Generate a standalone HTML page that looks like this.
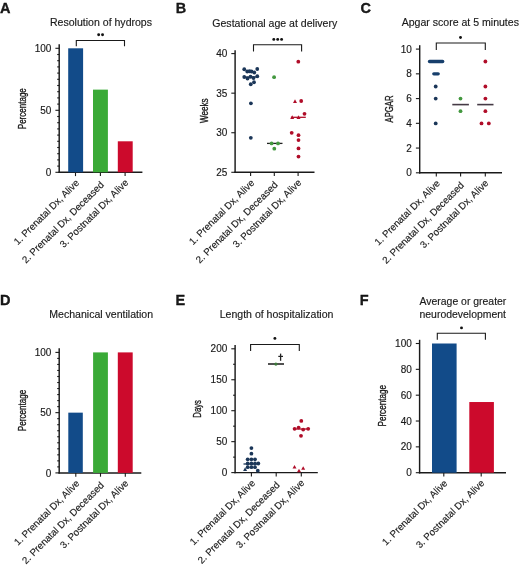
<!DOCTYPE html><html><head><meta charset="utf-8"><style>html,body{margin:0;padding:0;background:#fff;}svg{display:block;will-change:transform}</style></head><body>
<svg width="520" height="566" viewBox="0 0 520 566" font-family='"Liberation Sans", sans-serif' fill="#1a1a1a">
<rect width="520" height="566" fill="#fff"/>
<text x="0.1" y="12.6" font-size="14.5" text-anchor="start" font-weight="bold" stroke="#000" stroke-width="0.3">A</text>
<text x="50" y="26.3" font-size="10.55" text-anchor="start" font-weight="normal" stroke="#1a1a1a" stroke-width="0.15">Resolution of hydrops</text>
<line x1="59.2" y1="44.3" x2="59.2" y2="173.0" stroke="#1a1a1a" stroke-width="1.45"/>
<line x1="55.400000000000006" y1="172.3" x2="59.2" y2="172.3" stroke="#1a1a1a" stroke-width="1.1"/>
<text x="51.400000000000006" y="175.9" font-size="10" text-anchor="end" font-weight="normal" stroke="#1a1a1a" stroke-width="0.15">0</text>
<line x1="55.400000000000006" y1="110.30000000000001" x2="59.2" y2="110.30000000000001" stroke="#1a1a1a" stroke-width="1.1"/>
<text x="51.400000000000006" y="113.9" font-size="10" text-anchor="end" font-weight="normal" stroke="#1a1a1a" stroke-width="0.15">50</text>
<line x1="55.400000000000006" y1="48.3" x2="59.2" y2="48.3" stroke="#1a1a1a" stroke-width="1.1"/>
<text x="51.400000000000006" y="51.9" font-size="10" text-anchor="end" font-weight="normal" stroke="#1a1a1a" stroke-width="0.15">100</text>
<line x1="57.2" y1="166.10000000000002" x2="59.2" y2="166.10000000000002" stroke="#1a1a1a" stroke-width="1.1"/>
<line x1="57.2" y1="159.9" x2="59.2" y2="159.9" stroke="#1a1a1a" stroke-width="1.1"/>
<line x1="57.2" y1="153.70000000000002" x2="59.2" y2="153.70000000000002" stroke="#1a1a1a" stroke-width="1.1"/>
<line x1="57.2" y1="147.5" x2="59.2" y2="147.5" stroke="#1a1a1a" stroke-width="1.1"/>
<line x1="57.2" y1="141.3" x2="59.2" y2="141.3" stroke="#1a1a1a" stroke-width="1.1"/>
<line x1="57.2" y1="135.10000000000002" x2="59.2" y2="135.10000000000002" stroke="#1a1a1a" stroke-width="1.1"/>
<line x1="57.2" y1="128.9" x2="59.2" y2="128.9" stroke="#1a1a1a" stroke-width="1.1"/>
<line x1="57.2" y1="122.7" x2="59.2" y2="122.7" stroke="#1a1a1a" stroke-width="1.1"/>
<line x1="57.2" y1="116.5" x2="59.2" y2="116.5" stroke="#1a1a1a" stroke-width="1.1"/>
<line x1="57.2" y1="104.1" x2="59.2" y2="104.1" stroke="#1a1a1a" stroke-width="1.1"/>
<line x1="57.2" y1="97.9" x2="59.2" y2="97.9" stroke="#1a1a1a" stroke-width="1.1"/>
<line x1="57.2" y1="91.7" x2="59.2" y2="91.7" stroke="#1a1a1a" stroke-width="1.1"/>
<line x1="57.2" y1="85.5" x2="59.2" y2="85.5" stroke="#1a1a1a" stroke-width="1.1"/>
<line x1="57.2" y1="79.3" x2="59.2" y2="79.3" stroke="#1a1a1a" stroke-width="1.1"/>
<line x1="57.2" y1="73.1" x2="59.2" y2="73.1" stroke="#1a1a1a" stroke-width="1.1"/>
<line x1="57.2" y1="66.89999999999999" x2="59.2" y2="66.89999999999999" stroke="#1a1a1a" stroke-width="1.1"/>
<line x1="57.2" y1="60.69999999999999" x2="59.2" y2="60.69999999999999" stroke="#1a1a1a" stroke-width="1.1"/>
<line x1="57.2" y1="54.499999999999986" x2="59.2" y2="54.499999999999986" stroke="#1a1a1a" stroke-width="1.1"/>
<line x1="58.5" y1="172.3" x2="142.4" y2="172.3" stroke="#1a1a1a" stroke-width="1.45"/>
<line x1="75.5" y1="172.3" x2="75.5" y2="176.10000000000002" stroke="#1a1a1a" stroke-width="1.1"/>
<line x1="100.4" y1="172.3" x2="100.4" y2="176.10000000000002" stroke="#1a1a1a" stroke-width="1.1"/>
<line x1="125.1" y1="172.3" x2="125.1" y2="176.10000000000002" stroke="#1a1a1a" stroke-width="1.1"/>
<rect x="68.2" y="48.3" width="14.9" height="124.00000000000001" fill="#124b89"/>
<rect x="93" y="89.63333333333334" width="14.9" height="82.66666666666667" fill="#3aaa37"/>
<rect x="117.8" y="141.3" width="14.9" height="31.000000000000004" fill="#cc0a2c"/>
<path d="M76.3,46.3 V40.5 H124.5 V46.3" fill="none" stroke="#1a1a1a" stroke-width="1.1"/>
<circle cx="98.65" cy="34.80" r="1.45" fill="#111"/>
<circle cx="102.55" cy="34.80" r="1.45" fill="#111"/>
<text x="0" y="0" font-size="11" stroke="#1a1a1a" stroke-width="0.35" text-anchor="middle" textLength="41" lengthAdjust="spacingAndGlyphs" transform="translate(25.6,108.7) rotate(-90)">Percentage</text>
<text x="0" y="0" font-size="9.75" stroke="#1a1a1a" stroke-width="0.15" text-anchor="end" transform="translate(79.90,183.40) rotate(-45)">1. Prenatal Dx, Alive</text>
<text x="0" y="0" font-size="9.75" stroke="#1a1a1a" stroke-width="0.15" text-anchor="end" transform="translate(104.50,185.30) rotate(-45)">2. Prenatal Dx, Deceased</text>
<text x="0" y="0" font-size="9.75" stroke="#1a1a1a" stroke-width="0.15" text-anchor="end" transform="translate(129.00,183.20) rotate(-45)">3. Postnatal Dx, Alive</text>
<text x="175.7" y="12.6" font-size="14.5" text-anchor="start" font-weight="bold" stroke="#000" stroke-width="0.3">B</text>
<text x="212.3" y="26.5" font-size="10.55" text-anchor="start" font-weight="normal" stroke="#1a1a1a" stroke-width="0.15">Gestational age at delivery</text>
<line x1="235.1" y1="50.2" x2="235.1" y2="173.0" stroke="#1a1a1a" stroke-width="1.45"/>
<line x1="231.29999999999998" y1="172.3" x2="235.1" y2="172.3" stroke="#1a1a1a" stroke-width="1.1"/>
<text x="227.29999999999998" y="175.9" font-size="10" text-anchor="end" font-weight="normal" stroke="#1a1a1a" stroke-width="0.15">25</text>
<line x1="231.29999999999998" y1="132.73333333333335" x2="235.1" y2="132.73333333333335" stroke="#1a1a1a" stroke-width="1.1"/>
<text x="227.29999999999998" y="136.33333333333334" font-size="10" text-anchor="end" font-weight="normal" stroke="#1a1a1a" stroke-width="0.15">30</text>
<line x1="231.29999999999998" y1="93.16666666666666" x2="235.1" y2="93.16666666666666" stroke="#1a1a1a" stroke-width="1.1"/>
<text x="227.29999999999998" y="96.76666666666665" font-size="10" text-anchor="end" font-weight="normal" stroke="#1a1a1a" stroke-width="0.15">35</text>
<line x1="231.29999999999998" y1="53.599999999999994" x2="235.1" y2="53.599999999999994" stroke="#1a1a1a" stroke-width="1.1"/>
<text x="227.29999999999998" y="57.199999999999996" font-size="10" text-anchor="end" font-weight="normal" stroke="#1a1a1a" stroke-width="0.15">40</text>
<line x1="234.4" y1="172.3" x2="314.5" y2="172.3" stroke="#1a1a1a" stroke-width="1.45"/>
<line x1="250.6" y1="172.3" x2="250.6" y2="176.10000000000002" stroke="#1a1a1a" stroke-width="1.1"/>
<line x1="274.3" y1="172.3" x2="274.3" y2="176.10000000000002" stroke="#1a1a1a" stroke-width="1.1"/>
<line x1="298.1" y1="172.3" x2="298.1" y2="176.10000000000002" stroke="#1a1a1a" stroke-width="1.1"/>
<path d="M253.5,51.6 V44.8 H301.6 V51.6" fill="none" stroke="#1a1a1a" stroke-width="1.1"/>
<circle cx="273.80" cy="39.40" r="1.45" fill="#111"/>
<circle cx="277.70" cy="39.40" r="1.45" fill="#111"/>
<circle cx="281.60" cy="39.40" r="1.45" fill="#111"/>
<text x="0" y="0" font-size="11" stroke="#1a1a1a" stroke-width="0.35" text-anchor="middle" textLength="24.5" lengthAdjust="spacingAndGlyphs" transform="translate(207.6,110.8) rotate(-90)">Weeks</text>
<text x="0" y="0" font-size="9.75" stroke="#1a1a1a" stroke-width="0.15" text-anchor="end" transform="translate(255.00,183.40) rotate(-45)">1. Prenatal Dx, Alive</text>
<text x="0" y="0" font-size="9.75" stroke="#1a1a1a" stroke-width="0.15" text-anchor="end" transform="translate(278.40,185.30) rotate(-45)">2. Prenatal Dx, Deceased</text>
<text x="0" y="0" font-size="9.75" stroke="#1a1a1a" stroke-width="0.15" text-anchor="end" transform="translate(302.00,183.20) rotate(-45)">3. Postnatal Dx, Alive</text>
<line x1="243.2" y1="77" x2="258.5" y2="77" stroke="#1b3658" stroke-width="1.3"/>
<circle cx="244.25" cy="69.25" r="1.9" fill="#1b3658"/>
<circle cx="257.25" cy="69" r="1.9" fill="#1b3658"/>
<circle cx="247.25" cy="71.5" r="1.9" fill="#1b3658"/>
<circle cx="249.5" cy="71.25" r="1.9" fill="#1b3658"/>
<circle cx="251.5" cy="71.5" r="1.9" fill="#1b3658"/>
<circle cx="254.25" cy="72.5" r="1.9" fill="#1b3658"/>
<circle cx="244.25" cy="77" r="1.9" fill="#1b3658"/>
<circle cx="247.5" cy="78.5" r="1.9" fill="#1b3658"/>
<circle cx="250.5" cy="76.75" r="1.9" fill="#1b3658"/>
<circle cx="253.5" cy="78" r="1.9" fill="#1b3658"/>
<circle cx="257.25" cy="76.25" r="1.9" fill="#1b3658"/>
<circle cx="254" cy="82.25" r="1.9" fill="#1b3658"/>
<circle cx="250.75" cy="84.25" r="1.9" fill="#1b3658"/>
<circle cx="250.9" cy="103.3" r="1.9" fill="#1b3658"/>
<circle cx="250.8" cy="137.8" r="1.9" fill="#1b3658"/>
<line x1="267" y1="143.4" x2="282.5" y2="143.4" stroke="#222" stroke-width="1.3"/>
<circle cx="274.1" cy="77.2" r="1.9" fill="#43983f"/>
<circle cx="271.6" cy="143.4" r="1.9" fill="#43983f"/>
<circle cx="278" cy="143.4" r="1.9" fill="#43983f"/>
<circle cx="274.3" cy="148.7" r="1.9" fill="#43983f"/>
<line x1="290.9" y1="117.3" x2="305.8" y2="117.3" stroke="#b00d29" stroke-width="1.3"/>
<circle cx="298.3" cy="61.7" r="1.9" fill="#b00d29"/>
<circle cx="301.2" cy="101" r="1.9" fill="#b00d29"/>
<circle cx="304.5" cy="113.8" r="1.9" fill="#b00d29"/>
<circle cx="291.7" cy="132.8" r="1.9" fill="#b00d29"/>
<circle cx="298.5" cy="135.2" r="1.9" fill="#b00d29"/>
<circle cx="298.5" cy="140.1" r="1.9" fill="#b00d29"/>
<circle cx="298.5" cy="148.4" r="1.9" fill="#b00d29"/>
<circle cx="298.5" cy="156.6" r="1.9" fill="#b00d29"/>
<path d="M295,99.3 L297.0,102.89999999999999 L293.0,102.89999999999999 Z" fill="#b00d29"/>
<path d="M292.2,115.3 L294.2,118.89999999999999 L290.2,118.89999999999999 Z" fill="#b00d29"/>
<path d="M298.5,115.3 L300.5,118.89999999999999 L296.5,118.89999999999999 Z" fill="#b00d29"/>
<text x="360.6" y="12.6" font-size="14.5" text-anchor="start" font-weight="bold" stroke="#000" stroke-width="0.3">C</text>
<text x="401.7" y="26.3" font-size="10.55" text-anchor="start" font-weight="normal" stroke="#1a1a1a" stroke-width="0.15">Apgar score at 5 minutes</text>
<line x1="419.7" y1="45.2" x2="419.7" y2="173.5" stroke="#1a1a1a" stroke-width="1.45"/>
<line x1="415.9" y1="172.8" x2="419.7" y2="172.8" stroke="#1a1a1a" stroke-width="1.1"/>
<text x="411.9" y="176.4" font-size="10" text-anchor="end" font-weight="normal" stroke="#1a1a1a" stroke-width="0.15">0</text>
<line x1="415.9" y1="148.06" x2="419.7" y2="148.06" stroke="#1a1a1a" stroke-width="1.1"/>
<text x="411.9" y="151.66" font-size="10" text-anchor="end" font-weight="normal" stroke="#1a1a1a" stroke-width="0.15">2</text>
<line x1="415.9" y1="123.32000000000002" x2="419.7" y2="123.32000000000002" stroke="#1a1a1a" stroke-width="1.1"/>
<text x="411.9" y="126.92000000000002" font-size="10" text-anchor="end" font-weight="normal" stroke="#1a1a1a" stroke-width="0.15">4</text>
<line x1="415.9" y1="98.58000000000001" x2="419.7" y2="98.58000000000001" stroke="#1a1a1a" stroke-width="1.1"/>
<text x="411.9" y="102.18" font-size="10" text-anchor="end" font-weight="normal" stroke="#1a1a1a" stroke-width="0.15">6</text>
<line x1="415.9" y1="73.84000000000002" x2="419.7" y2="73.84000000000002" stroke="#1a1a1a" stroke-width="1.1"/>
<text x="411.9" y="77.44000000000001" font-size="10" text-anchor="end" font-weight="normal" stroke="#1a1a1a" stroke-width="0.15">8</text>
<line x1="415.9" y1="49.10000000000002" x2="419.7" y2="49.10000000000002" stroke="#1a1a1a" stroke-width="1.1"/>
<text x="411.9" y="52.700000000000024" font-size="10" text-anchor="end" font-weight="normal" stroke="#1a1a1a" stroke-width="0.15">10</text>
<line x1="419.0" y1="172.8" x2="502" y2="172.8" stroke="#1a1a1a" stroke-width="1.45"/>
<line x1="436.3" y1="172.8" x2="436.3" y2="176.60000000000002" stroke="#1a1a1a" stroke-width="1.1"/>
<line x1="460.6" y1="172.8" x2="460.6" y2="176.60000000000002" stroke="#1a1a1a" stroke-width="1.1"/>
<line x1="485.3" y1="172.8" x2="485.3" y2="176.60000000000002" stroke="#1a1a1a" stroke-width="1.1"/>
<path d="M436.3,49.9 V43 H485.3 V49.9" fill="none" stroke="#1a1a1a" stroke-width="1.1"/>
<circle cx="460.50" cy="37.50" r="1.45" fill="#111"/>
<text x="0" y="0" font-size="11" stroke="#1a1a1a" stroke-width="0.35" text-anchor="middle" textLength="27" lengthAdjust="spacingAndGlyphs" transform="translate(393,109) rotate(-90)">APGAR</text>
<text x="0" y="0" font-size="9.75" stroke="#1a1a1a" stroke-width="0.15" text-anchor="end" transform="translate(440.70,183.90) rotate(-45)">1. Prenatal Dx, Alive</text>
<text x="0" y="0" font-size="9.75" stroke="#1a1a1a" stroke-width="0.15" text-anchor="end" transform="translate(464.70,185.80) rotate(-45)">2. Prenatal Dx, Deceased</text>
<text x="0" y="0" font-size="9.75" stroke="#1a1a1a" stroke-width="0.15" text-anchor="end" transform="translate(489.20,183.70) rotate(-45)">3. Postnatal Dx, Alive</text>
<line x1="429.5" y1="61.5" x2="442.7" y2="61.5" stroke="#173f6c" stroke-width="3.3" stroke-linecap="round"/>
<line x1="433.8" y1="73.8" x2="438.2" y2="73.8" stroke="#173f6c" stroke-width="3.3" stroke-linecap="round"/>
<circle cx="435.7" cy="86.5" r="1.9" fill="#1b3658"/>
<circle cx="435.7" cy="98.6" r="1.9" fill="#1b3658"/>
<circle cx="435.7" cy="123.4" r="1.9" fill="#1b3658"/>
<line x1="452.3" y1="104.6" x2="468.9" y2="104.6" stroke="#453a45" stroke-width="1.6"/>
<line x1="477.2" y1="104.6" x2="493.5" y2="104.6" stroke="#453a45" stroke-width="1.6"/>
<circle cx="460.5" cy="98.6" r="1.9" fill="#43983f"/>
<circle cx="460.5" cy="111.2" r="1.9" fill="#43983f"/>
<circle cx="485.4" cy="61.5" r="1.9" fill="#b00d29"/>
<circle cx="485.4" cy="86.5" r="1.9" fill="#b00d29"/>
<circle cx="485.4" cy="98.6" r="1.9" fill="#b00d29"/>
<circle cx="485.4" cy="111.2" r="1.9" fill="#b00d29"/>
<circle cx="481.5" cy="123.4" r="1.9" fill="#b00d29"/>
<circle cx="488.8" cy="123.4" r="1.9" fill="#b00d29"/>
<text x="0" y="304.6" font-size="14.5" text-anchor="start" font-weight="bold" stroke="#000" stroke-width="0.3">D</text>
<text x="49.3" y="318" font-size="10.55" text-anchor="start" font-weight="normal" stroke="#1a1a1a" stroke-width="0.15">Mechanical ventilation</text>
<line x1="59.2" y1="348.29999999999995" x2="59.2" y2="473.59999999999997" stroke="#1a1a1a" stroke-width="1.45"/>
<line x1="55.400000000000006" y1="472.9" x2="59.2" y2="472.9" stroke="#1a1a1a" stroke-width="1.1"/>
<text x="51.400000000000006" y="476.5" font-size="10" text-anchor="end" font-weight="normal" stroke="#1a1a1a" stroke-width="0.15">0</text>
<line x1="55.400000000000006" y1="412.65" x2="59.2" y2="412.65" stroke="#1a1a1a" stroke-width="1.1"/>
<text x="51.400000000000006" y="416.25" font-size="10" text-anchor="end" font-weight="normal" stroke="#1a1a1a" stroke-width="0.15">50</text>
<line x1="55.400000000000006" y1="352.4" x2="59.2" y2="352.4" stroke="#1a1a1a" stroke-width="1.1"/>
<text x="51.400000000000006" y="356.0" font-size="10" text-anchor="end" font-weight="normal" stroke="#1a1a1a" stroke-width="0.15">100</text>
<line x1="57.2" y1="466.875" x2="59.2" y2="466.875" stroke="#1a1a1a" stroke-width="1.1"/>
<line x1="57.2" y1="460.84999999999997" x2="59.2" y2="460.84999999999997" stroke="#1a1a1a" stroke-width="1.1"/>
<line x1="57.2" y1="454.825" x2="59.2" y2="454.825" stroke="#1a1a1a" stroke-width="1.1"/>
<line x1="57.2" y1="448.79999999999995" x2="59.2" y2="448.79999999999995" stroke="#1a1a1a" stroke-width="1.1"/>
<line x1="57.2" y1="442.775" x2="59.2" y2="442.775" stroke="#1a1a1a" stroke-width="1.1"/>
<line x1="57.2" y1="436.75" x2="59.2" y2="436.75" stroke="#1a1a1a" stroke-width="1.1"/>
<line x1="57.2" y1="430.72499999999997" x2="59.2" y2="430.72499999999997" stroke="#1a1a1a" stroke-width="1.1"/>
<line x1="57.2" y1="424.7" x2="59.2" y2="424.7" stroke="#1a1a1a" stroke-width="1.1"/>
<line x1="57.2" y1="418.67499999999995" x2="59.2" y2="418.67499999999995" stroke="#1a1a1a" stroke-width="1.1"/>
<line x1="57.2" y1="406.625" x2="59.2" y2="406.625" stroke="#1a1a1a" stroke-width="1.1"/>
<line x1="57.2" y1="400.59999999999997" x2="59.2" y2="400.59999999999997" stroke="#1a1a1a" stroke-width="1.1"/>
<line x1="57.2" y1="394.575" x2="59.2" y2="394.575" stroke="#1a1a1a" stroke-width="1.1"/>
<line x1="57.2" y1="388.54999999999995" x2="59.2" y2="388.54999999999995" stroke="#1a1a1a" stroke-width="1.1"/>
<line x1="57.2" y1="382.525" x2="59.2" y2="382.525" stroke="#1a1a1a" stroke-width="1.1"/>
<line x1="57.2" y1="376.5" x2="59.2" y2="376.5" stroke="#1a1a1a" stroke-width="1.1"/>
<line x1="57.2" y1="370.47499999999997" x2="59.2" y2="370.47499999999997" stroke="#1a1a1a" stroke-width="1.1"/>
<line x1="57.2" y1="364.45" x2="59.2" y2="364.45" stroke="#1a1a1a" stroke-width="1.1"/>
<line x1="57.2" y1="358.42499999999995" x2="59.2" y2="358.42499999999995" stroke="#1a1a1a" stroke-width="1.1"/>
<line x1="58.5" y1="472.9" x2="141.3" y2="472.9" stroke="#1a1a1a" stroke-width="1.45"/>
<line x1="75.8" y1="472.9" x2="75.8" y2="476.7" stroke="#1a1a1a" stroke-width="1.1"/>
<line x1="100.5" y1="472.9" x2="100.5" y2="476.7" stroke="#1a1a1a" stroke-width="1.1"/>
<line x1="125.3" y1="472.9" x2="125.3" y2="476.7" stroke="#1a1a1a" stroke-width="1.1"/>
<rect x="68.3" y="412.65" width="14.5" height="60.25" fill="#124b89"/>
<rect x="93.1" y="352.4" width="14.8" height="120.5" fill="#3aaa37"/>
<rect x="117.8" y="352.4" width="14.9" height="120.5" fill="#cc0a2c"/>
<text x="0" y="0" font-size="11" stroke="#1a1a1a" stroke-width="0.35" text-anchor="middle" textLength="41.3" lengthAdjust="spacingAndGlyphs" transform="translate(25.6,410.5) rotate(-90)">Percentage</text>
<text x="0" y="0" font-size="9.75" stroke="#1a1a1a" stroke-width="0.15" text-anchor="end" transform="translate(80.20,484.00) rotate(-45)">1. Prenatal Dx, Alive</text>
<text x="0" y="0" font-size="9.75" stroke="#1a1a1a" stroke-width="0.15" text-anchor="end" transform="translate(104.60,485.90) rotate(-45)">2. Prenatal Dx, Deceased</text>
<text x="0" y="0" font-size="9.75" stroke="#1a1a1a" stroke-width="0.15" text-anchor="end" transform="translate(129.20,483.80) rotate(-45)">3. Postnatal Dx, Alive</text>
<text x="175.5" y="304.6" font-size="14.5" text-anchor="start" font-weight="bold" stroke="#000" stroke-width="0.3">E</text>
<text x="219.7" y="318" font-size="10.55" text-anchor="start" font-weight="normal" stroke="#1a1a1a" stroke-width="0.15">Length of hospitalization</text>
<line x1="235.1" y1="345.0" x2="235.1" y2="473.3" stroke="#1a1a1a" stroke-width="1.45"/>
<line x1="231.29999999999998" y1="472.6" x2="235.1" y2="472.6" stroke="#1a1a1a" stroke-width="1.1"/>
<text x="227.29999999999998" y="476.20000000000005" font-size="10" text-anchor="end" font-weight="normal" stroke="#1a1a1a" stroke-width="0.15">0</text>
<line x1="231.29999999999998" y1="441.65000000000003" x2="235.1" y2="441.65000000000003" stroke="#1a1a1a" stroke-width="1.1"/>
<text x="227.29999999999998" y="445.25000000000006" font-size="10" text-anchor="end" font-weight="normal" stroke="#1a1a1a" stroke-width="0.15">50</text>
<line x1="231.29999999999998" y1="410.7" x2="235.1" y2="410.7" stroke="#1a1a1a" stroke-width="1.1"/>
<text x="227.29999999999998" y="414.3" font-size="10" text-anchor="end" font-weight="normal" stroke="#1a1a1a" stroke-width="0.15">100</text>
<line x1="231.29999999999998" y1="379.75" x2="235.1" y2="379.75" stroke="#1a1a1a" stroke-width="1.1"/>
<text x="227.29999999999998" y="383.35" font-size="10" text-anchor="end" font-weight="normal" stroke="#1a1a1a" stroke-width="0.15">150</text>
<line x1="231.29999999999998" y1="348.8" x2="235.1" y2="348.8" stroke="#1a1a1a" stroke-width="1.1"/>
<text x="227.29999999999998" y="352.40000000000003" font-size="10" text-anchor="end" font-weight="normal" stroke="#1a1a1a" stroke-width="0.15">200</text>
<line x1="233.1" y1="457.125" x2="235.1" y2="457.125" stroke="#1a1a1a" stroke-width="1.1"/>
<line x1="233.1" y1="426.175" x2="235.1" y2="426.175" stroke="#1a1a1a" stroke-width="1.1"/>
<line x1="233.1" y1="395.225" x2="235.1" y2="395.225" stroke="#1a1a1a" stroke-width="1.1"/>
<line x1="233.1" y1="364.275" x2="235.1" y2="364.275" stroke="#1a1a1a" stroke-width="1.1"/>
<line x1="234.4" y1="472.6" x2="317.8" y2="472.6" stroke="#1a1a1a" stroke-width="1.45"/>
<line x1="251.4" y1="472.6" x2="251.4" y2="476.40000000000003" stroke="#1a1a1a" stroke-width="1.1"/>
<line x1="276.2" y1="472.6" x2="276.2" y2="476.40000000000003" stroke="#1a1a1a" stroke-width="1.1"/>
<line x1="301.3" y1="472.6" x2="301.3" y2="476.40000000000003" stroke="#1a1a1a" stroke-width="1.1"/>
<path d="M250.6,350.9 V344.5 H299.3 V350.9" fill="none" stroke="#1a1a1a" stroke-width="1.1"/>
<circle cx="274.90" cy="338.40" r="1.45" fill="#111"/>
<text x="0" y="0" font-size="11" stroke="#1a1a1a" stroke-width="0.35" text-anchor="middle" textLength="17.6" lengthAdjust="spacingAndGlyphs" transform="translate(200.9,408.9) rotate(-90)">Days</text>
<text x="0" y="0" font-size="9.75" stroke="#1a1a1a" stroke-width="0.15" text-anchor="end" transform="translate(255.80,483.70) rotate(-45)">1. Prenatal Dx, Alive</text>
<text x="0" y="0" font-size="9.75" stroke="#1a1a1a" stroke-width="0.15" text-anchor="end" transform="translate(280.30,485.60) rotate(-45)">2. Prenatal Dx, Deceased</text>
<text x="0" y="0" font-size="9.75" stroke="#1a1a1a" stroke-width="0.15" text-anchor="end" transform="translate(305.20,483.50) rotate(-45)">3. Postnatal Dx, Alive</text>
<line x1="243.5" y1="464" x2="259" y2="464" stroke="#1b3658" stroke-width="1.3"/>
<circle cx="251.4" cy="448.1" r="1.9" fill="#1b3658"/>
<circle cx="251.4" cy="453.7" r="1.9" fill="#1b3658"/>
<circle cx="247.7" cy="459.3" r="1.9" fill="#1b3658"/>
<circle cx="251.4" cy="459.3" r="1.9" fill="#1b3658"/>
<circle cx="255" cy="459.3" r="1.9" fill="#1b3658"/>
<circle cx="247.7" cy="463.5" r="1.9" fill="#1b3658"/>
<circle cx="251.4" cy="463.5" r="1.9" fill="#1b3658"/>
<circle cx="255" cy="463.5" r="1.9" fill="#1b3658"/>
<circle cx="258.3" cy="463.5" r="1.9" fill="#1b3658"/>
<circle cx="247.7" cy="467.2" r="1.9" fill="#1b3658"/>
<circle cx="251.4" cy="467.2" r="1.9" fill="#1b3658"/>
<circle cx="255" cy="467.2" r="1.9" fill="#1b3658"/>
<circle cx="257.8" cy="470.7" r="1.9" fill="#1b3658"/>
<path d="M245.1,467.3 L247.1,470.90000000000003 L243.1,470.90000000000003 Z" fill="#1b3658"/>
<line x1="268" y1="364" x2="284" y2="364" stroke="#333" stroke-width="1.7"/>
<circle cx="275.9" cy="364.1" r="1.6" fill="#3d7a3b"/>
<line x1="280.6" y1="353.6" x2="280.6" y2="360.8" stroke="#222" stroke-width="1.3"/>
<line x1="278.3" y1="356.4" x2="283" y2="356.4" stroke="#222" stroke-width="1.2"/>
<line x1="293" y1="429" x2="309" y2="429" stroke="#b00d29" stroke-width="1.3"/>
<circle cx="301.3" cy="420.9" r="1.9" fill="#b00d29"/>
<circle cx="294.6" cy="428.8" r="1.9" fill="#b00d29"/>
<circle cx="298.6" cy="427.6" r="1.9" fill="#b00d29"/>
<circle cx="303.2" cy="429.6" r="1.9" fill="#b00d29"/>
<circle cx="308.2" cy="428.8" r="1.9" fill="#b00d29"/>
<circle cx="301" cy="435.8" r="1.9" fill="#b00d29"/>
<path d="M294.5,465.0 L296.5,468.6 L292.5,468.6 Z" fill="#b00d29"/>
<path d="M299,468.7 L301.0,472.3 L297.0,472.3 Z" fill="#b00d29"/>
<path d="M303.2,466.2 L305.2,469.8 L301.2,469.8 Z" fill="#b00d29"/>
<text x="359.8" y="304.7" font-size="14.5" text-anchor="start" font-weight="bold" stroke="#000" stroke-width="0.3">F</text>
<text x="419.5" y="304.9" font-size="10.45" text-anchor="start" font-weight="normal" stroke="#1a1a1a" stroke-width="0.15">Average or greater</text>
<text x="419.5" y="317.7" font-size="10.45" text-anchor="start" font-weight="normal" stroke="#1a1a1a" stroke-width="0.15">neurodevelopment</text>
<line x1="419.6" y1="339.8" x2="419.6" y2="473.4" stroke="#1a1a1a" stroke-width="1.45"/>
<line x1="415.8" y1="472.7" x2="419.6" y2="472.7" stroke="#1a1a1a" stroke-width="1.1"/>
<text x="411.8" y="476.3" font-size="10" text-anchor="end" font-weight="normal" stroke="#1a1a1a" stroke-width="0.15">0</text>
<line x1="415.8" y1="446.86" x2="419.6" y2="446.86" stroke="#1a1a1a" stroke-width="1.1"/>
<text x="411.8" y="450.46000000000004" font-size="10" text-anchor="end" font-weight="normal" stroke="#1a1a1a" stroke-width="0.15">20</text>
<line x1="415.8" y1="421.02" x2="419.6" y2="421.02" stroke="#1a1a1a" stroke-width="1.1"/>
<text x="411.8" y="424.62" font-size="10" text-anchor="end" font-weight="normal" stroke="#1a1a1a" stroke-width="0.15">40</text>
<line x1="415.8" y1="395.18" x2="419.6" y2="395.18" stroke="#1a1a1a" stroke-width="1.1"/>
<text x="411.8" y="398.78000000000003" font-size="10" text-anchor="end" font-weight="normal" stroke="#1a1a1a" stroke-width="0.15">60</text>
<line x1="415.8" y1="369.34000000000003" x2="419.6" y2="369.34000000000003" stroke="#1a1a1a" stroke-width="1.1"/>
<text x="411.8" y="372.94000000000005" font-size="10" text-anchor="end" font-weight="normal" stroke="#1a1a1a" stroke-width="0.15">80</text>
<line x1="415.8" y1="343.5" x2="419.6" y2="343.5" stroke="#1a1a1a" stroke-width="1.1"/>
<text x="411.8" y="347.1" font-size="10" text-anchor="end" font-weight="normal" stroke="#1a1a1a" stroke-width="0.15">100</text>
<line x1="418.90000000000003" y1="472.7" x2="506" y2="472.7" stroke="#1a1a1a" stroke-width="1.45"/>
<line x1="443.8" y1="472.7" x2="443.8" y2="476.5" stroke="#1a1a1a" stroke-width="1.1"/>
<line x1="481.2" y1="472.7" x2="481.2" y2="476.5" stroke="#1a1a1a" stroke-width="1.1"/>
<rect x="432" y="343.5" width="24.6" height="129.2" fill="#124b89"/>
<rect x="469.3" y="402.0276" width="24.6" height="70.6724" fill="#cc0a2c"/>
<path d="M437.3,339.8 V333.3 H485.4 V339.8" fill="none" stroke="#1a1a1a" stroke-width="1.1"/>
<circle cx="461.50" cy="327.90" r="1.45" fill="#111"/>
<text x="0" y="0" font-size="11" stroke="#1a1a1a" stroke-width="0.35" text-anchor="middle" textLength="41.4" lengthAdjust="spacingAndGlyphs" transform="translate(386.3,405.8) rotate(-90)">Percentage</text>
<text x="0" y="0" font-size="9.75" stroke="#1a1a1a" stroke-width="0.15" text-anchor="end" transform="translate(448.20,483.80) rotate(-45)">1. Prenatal Dx, Alive</text>
<text x="0" y="0" font-size="9.75" stroke="#1a1a1a" stroke-width="0.15" text-anchor="end" transform="translate(485.10,483.60) rotate(-45)">3. Postnatal Dx, Alive</text>
</svg></body></html>
